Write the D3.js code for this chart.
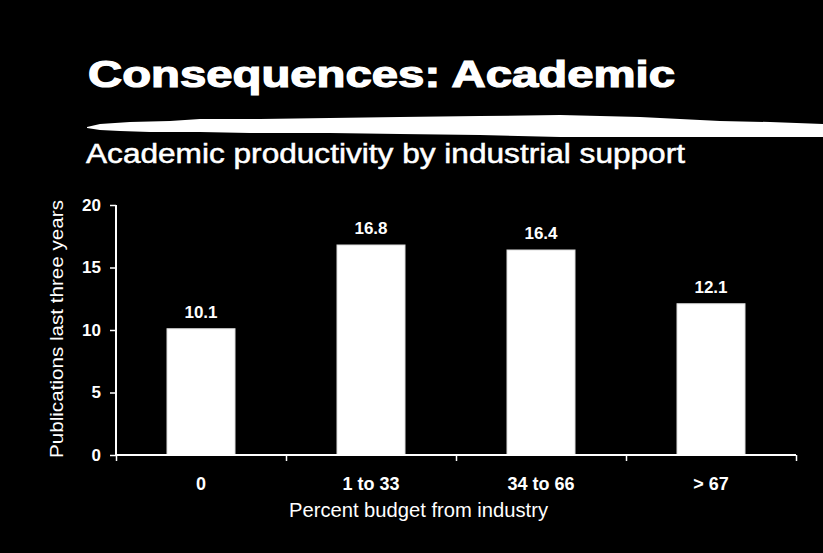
<!DOCTYPE html>
<html>
<head>
<meta charset="utf-8">
<script src="https://cdn.jsdelivr.net/npm/d3@7"></script>
<style>
  html, body { margin: 0; padding: 0; background: #000; }
  svg { display: block; }
</style>
</head>
<body>
<svg id="chart" width="823" height="553"></svg>
<script>
const categories = ["0", "1 to 33", "34 to 66", "> 67"];
const values = [10.1, 16.8, 16.4, 12.1];
const yTicks = [0, 5, 10, 15, 20];
const titleText = "Consequences:  Academic";
const subtitleText = "Academic productivity by industrial support";
const xTitle = "Percent budget from industry";
const yTitle = "Publications last three years";

const svg = d3.select("#chart");
const W = 823, H = 553;
svg.append("rect").attr("width", W).attr("height", H).attr("fill", "#000");

const font = "'Liberation Sans', Arial, Helvetica, sans-serif";

// Title
svg.append("text")
  .attr("x", 88).attr("y", 87)
  .attr("font-family", font).attr("font-weight", "bold")
  .attr("font-size", 36).attr("fill", "#fff")
  .attr("stroke", "#fff").attr("stroke-width", 1.2)
  .attr("textLength", 587).attr("lengthAdjust", "spacingAndGlyphs")
  .text(titleText);

// Brush stroke decoration
const strokeTop = [[87,127],[100,124],[130,122],[170,121],[200,119],[260,119],[330,118],[400,117],[480,116],[560,115],[600,116],[640,117],[680,119],[720,121],[770,122],[823,124]];
const strokeBot = [[823,137],[780,137],[740,137],[700,137],[640,137],[560,137],[480,135],[400,134],[330,133],[250,133],[200,132],[150,132],[120,131],[100,130],[87,128]];
svg.append("path")
  .attr("d", d3.line()(strokeTop.concat(strokeBot)) + "Z")
  .attr("fill", "#fff");

// Subtitle
svg.append("text")
  .attr("x", 86).attr("y", 163)
  .attr("font-family", font)
  .attr("font-size", 27).attr("fill", "#fff")
  .attr("stroke", "#fff").attr("stroke-width", 0.5)
  .attr("textLength", 599).attr("lengthAdjust", "spacingAndGlyphs")
  .text(subtitleText);

// Scales
const x = d3.scaleBand().domain(categories).range([116, 796])
  .paddingInner(0.6).paddingOuter(0.3);
const y = d3.scaleLinear().domain([0, 20]).range([455, 205]);
const xEdges = d3.scaleLinear().domain([0, categories.length]).range([116, 796]);

// Bars
svg.append("g").selectAll("rect")
  .data(values)
  .join("rect")
  .attr("x", (d, i) => x(categories[i]))
  .attr("y", d => y(d))
  .attr("width", x.bandwidth())
  .attr("height", d => y(0) - y(d))
  .attr("fill", "#fff")
  .attr("stroke", "#ddd")
  .attr("stroke-width", 1);

// Value labels
svg.append("g").selectAll("text")
  .data(values)
  .join("text")
  .attr("x", (d, i) => x(categories[i]) + x.bandwidth() / 2)
  .attr("y", d => y(d) - 11)
  .attr("text-anchor", "middle")
  .attr("font-family", font).attr("font-weight", "bold")
  .attr("font-size", 17).attr("fill", "#fff")
  .text(d => d.toFixed(1));

// Y axis
const yAxis = svg.append("g")
  .attr("transform", "translate(116,0)")
  .call(d3.axisLeft(y).tickValues(yTicks).tickSize(6).tickPadding(9).tickFormat(d3.format("d")));
yAxis.select(".domain").attr("stroke", "#fff").attr("stroke-width", 2).attr("d", "M0,205V455");
yAxis.selectAll(".tick line").attr("stroke", "#fff").attr("stroke-width", 1.5);
yAxis.selectAll(".tick text")
  .attr("fill", "#fff").attr("font-family", font)
  .attr("font-weight", "bold").attr("font-size", 17);

// X axis (ticks at band edges)
const xAxis = svg.append("g")
  .attr("transform", "translate(0,455)")
  .call(d3.axisBottom(xEdges).ticks(categories.length).tickSize(6).tickFormat(""));
xAxis.select(".domain").attr("stroke", "#fff").attr("stroke-width", 2).attr("d", "M116,0H796");
xAxis.selectAll(".tick line").attr("stroke", "#fff").attr("stroke-width", 1.5);

// X category labels
svg.append("g").selectAll("text")
  .data(categories)
  .join("text")
  .attr("x", d => x(d) + x.bandwidth() / 2)
  .attr("y", 490)
  .attr("text-anchor", "middle")
  .attr("font-family", font).attr("font-weight", "bold")
  .attr("font-size", 18).attr("fill", "#fff")
  .text(d => d);

// X title
svg.append("text")
  .attr("x", 289).attr("y", 517)
  .attr("font-family", font)
  .attr("font-size", 20).attr("fill", "#fff")
  .attr("textLength", 259).attr("lengthAdjust", "spacingAndGlyphs")
  .text(xTitle);

// Y title
svg.append("text")
  .attr("transform", "translate(63,458) rotate(-90)")
  .attr("x", 0).attr("y", 0)
  .attr("font-family", font)
  .attr("font-size", 19).attr("fill", "#fff")
  .attr("textLength", 258).attr("lengthAdjust", "spacingAndGlyphs")
  .text(yTitle);
</script>
</body>
</html>
